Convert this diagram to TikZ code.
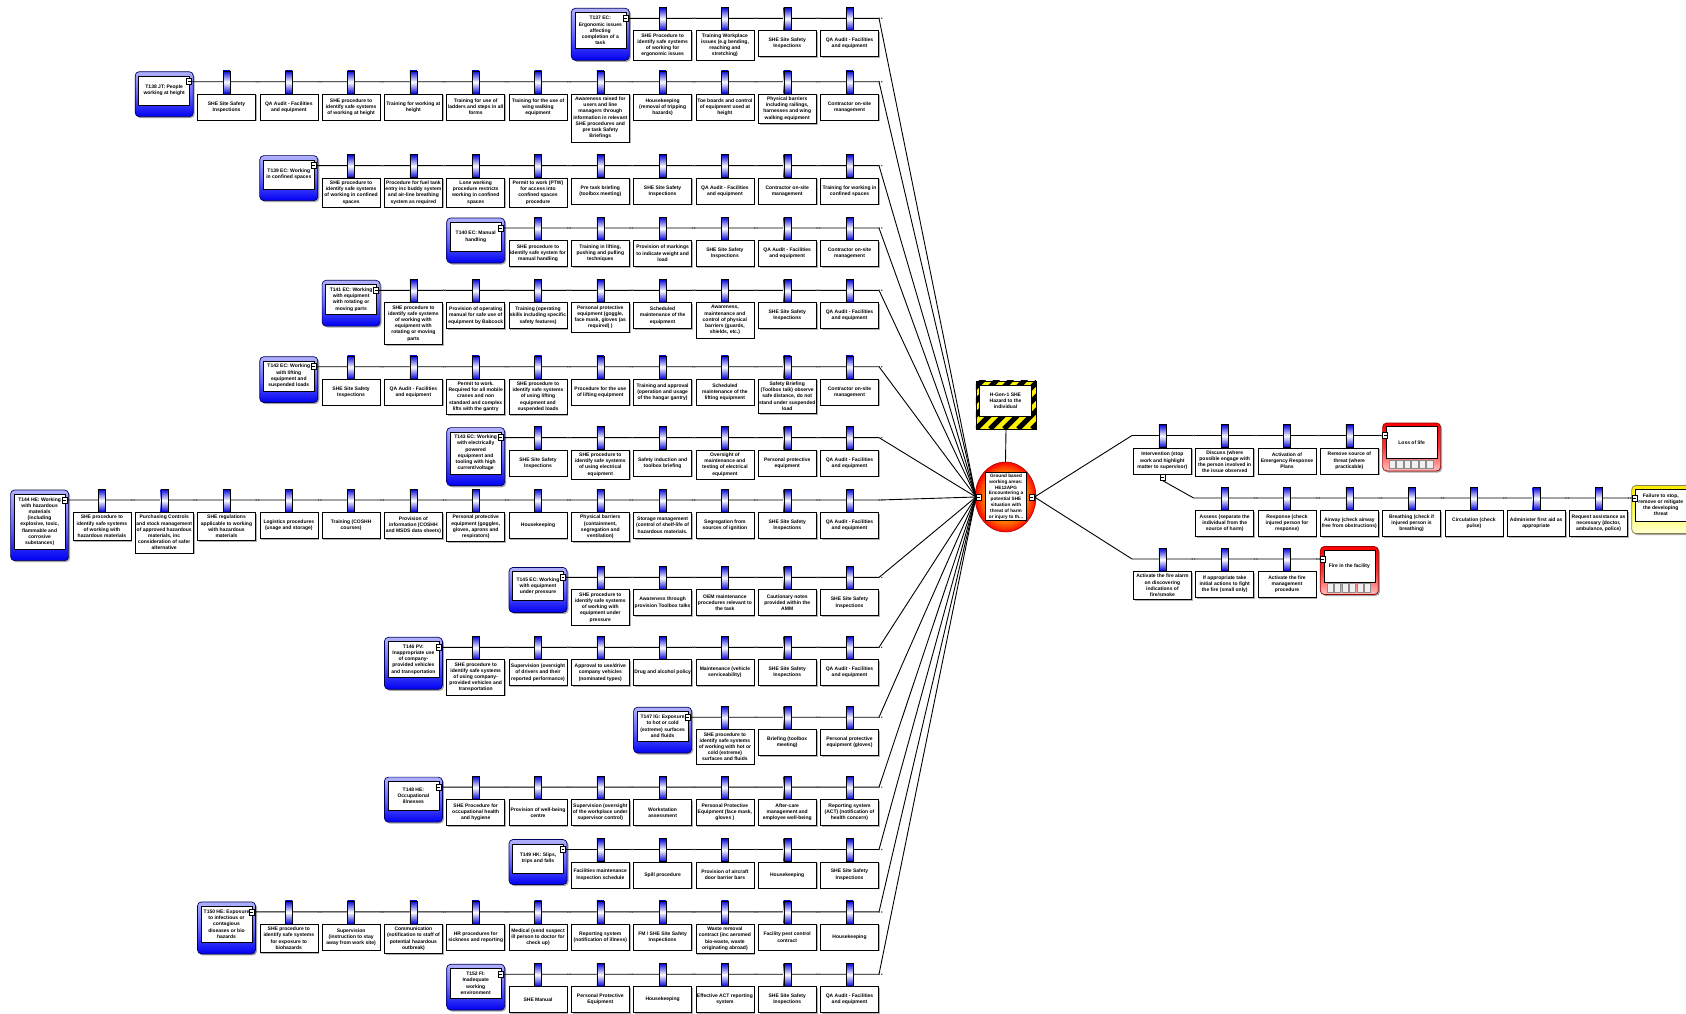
\documentclass[tikz,border=0pt]{standalone}
\usepackage{fontspec}
\setmainfont{Liberation Sans}
\usetikzlibrary{shapes.geometric,shadows}
\pgfdeclareradialshading{teshade}{\pgfpoint{0bp}{0bp}}{color(0bp)=(yellow!40!orange); color(17bp)=(orange); color(22bp)=(orange!45!red); color(25bp)=(red); color(50bp)=(red)}
\newcommand\bxf{\fontsize{5.0}{6.2}\selectfont\bfseries}
\newcommand\tef{\fontsize{4.7}{5.9}\selectfont\bfseries}
\tikzset{
  conline/.style={draw=black, line width=0.9},
  barrierbox/.style={draw=black, line width=0.5, fill=white, font=\bxf, align=center, minimum width=58, minimum height=26, inner xsep=0.8, inner ysep=3, drop shadow={shadow xshift=1.3pt, shadow yshift=-1.3pt, fill=black!50, opacity=0.6}},
  stemshade/.style={top color=blue!85!black, bottom color=blue!85!black, middle color=white, draw=black, line width=0.4},
  threatshade/.style={top color=blue!30!white, bottom color=blue!95!black, middle color=blue!60!white},
  threatedge/.style={draw=blue!35!black, line width=0.7, rounded corners=4},
  threatinner/.style={draw=black, line width=0.5, fill=white, font=\bxf, align=center, minimum width=51, inner sep=0.8},
  consinner/.style={draw=black, line width=0.5, fill=white, font=\bxf, align=center, minimum width=51, minimum height=32, inner sep=1},
  conn/.style={draw=black, line width=0.5, fill=white, minimum width=5, minimum height=6, inner sep=0, path picture={\draw[line width=0.5] ([xshift=-1.4pt]path picture bounding box.center) -- ([xshift=1.4pt]path picture bounding box.center);}},
  redshade/.style={top color=red, bottom color=red!25!white, middle color=red!80!white},
  rededge/.style={draw=red!60!black, line width=0.7, rounded corners=4},
  yellowshade/.style={top color=yellow!85!orange, bottom color=yellow!15!white, middle color=yellow!70!white},
  yellowedge/.style={draw=yellow!45!black, line width=0.7, rounded corners=4},
  hazinner/.style={draw=black, line width=0.5, fill=white, font=\bxf, align=center, minimum width=52, minimum height=31, inner sep=1},
  dotmark/.style={fill=black!70}
}
% barrier: name, x, line y, text
\newcommand\barrierat[4]{%
  \fill[dotmark] (#2+29.2,#3-0.6) rectangle ++(1.2,1.2) (#2+31.6,#3-0.6) rectangle ++(1.2,1.2);%
  \shade[stemshade] (#2-3.5,#3-11) rectangle (#2+3.5,#3+12);%
  \node[barrierbox, anchor=north] (#1) at (#2,#3+12) {#4};%
}
% threat row: id, line y, n barriers, threat lines, threat text, barrier list
\newcommand\threatrow[6]{%
  \pgfmathsetmacro\thx{849.5-62.3*#3}%
  \pgfmathsetmacro\thih{max(29,#4*6.2+5)}%
  \pgfmathsetmacro\thtop{#2-10}%
  \pgfmathsetmacro\thbot{#2-10+\thih+16}%
  \fill[black!35, rounded corners=4] (\thx-27.5,\thtop+1.5) rectangle (\thx+30.5,\thbot+1.5);%
  \shade[threatshade, rounded corners=4] (\thx-29,\thtop) rectangle (\thx+29,\thbot);%
  \draw[threatedge] (\thx-29,\thtop) rectangle (\thx+29,\thbot);%
  \node[threatinner, minimum height=\thih, anchor=north] (T#1) at (\thx,\thtop+4) {#5};%
  \node[conn] (T#1c) at (\thx+25,#2) {};%
  \coordinate (bend#1) at (879,#2);%
  \draw[conline] (T#1c.east) -- (bend#1) -- (TEl.west);%
  \foreach \btext [count=\i] in {#6} {%
    \pgfmathsetmacro\bx{849.5-62.3*(#3-\i)}%
    \barrierat{b#1-\i}{\bx}{#2}{\btext}%
  }%
}
% consequence: name, cx, line y, text, kind
\newcommand\consbox[5]{%
  \fill[black!35, rounded corners=4] (#2-27.5,#3-11) rectangle (#2+30.5,#3+37);%
  \shade[#5shade, rounded corners=4] (#2-29,#3-12.5) rectangle (#2+29,#3+35.5);%
  \draw[#5edge] (#2-29,#3-12.5) rectangle (#2+29,#3+35.5);%
  \node[consinner, anchor=north] (#1) at (#2,#3-9.5) {#4};%
  \node[conn] (#1c) at (#2-26.5,#3) {};%
}
\newcommand\conssquares[2]{%
  \foreach \q in {0,...,5} {\filldraw[fill=black!6, draw=black!45, line width=0.4] (#1-22.5+\q*7.5,#2+24.5) rectangle ++(6.3,8.5);}%
}
\begin{document}
\begin{tikzpicture}[x=1pt,y=-1pt]
\useasboundingbox (0,0) rectangle (1686,1013);
\fill[white] (0,0) rectangle (1686,1013);

% ---------- hazard ----------
\node[minimum width=60, minimum height=48, inner sep=0] (HZ) at (1006,405) {};
\begin{scope}
  \clip (HZ.south west) rectangle (HZ.north east);
  \fill[yellow] (HZ.south west) rectangle (HZ.north east);
  \foreach \s in {-56,-42,...,70} {\draw[line width=5] (976+\s,429) -- ++(50,-50);}
\end{scope}
\draw[line width=0.6] (HZ.south west) rectangle (HZ.north east);
\node[hazinner, anchor=north] (HZt) at (1005.5,385) {H-Gen-1 SHE\\Hazard to the\\individual};

% ---------- top event ----------
\node[ellipse, shade, shading=teshade, draw=red!65!black, line width=0.5, minimum width=61, minimum height=70, inner sep=0] (TE) at (1005.5,497) {};
\node[draw=black, line width=0.5, fill=white, font=\tef, align=center, minimum width=41, minimum height=48, inner sep=0.8] (TEt) at (1006,496.7) {Ground based\\working areas:\\HE12APG\\Encountering a\\potential SHE\\situation with\\threat of harm\\or injury to th...};
\node[conn] (TEl) at (978.7,497) {};
\node[conn] (TEr) at (1031.7,497) {};
\draw[conline] (HZ.south) -- (TE.north);

% ---------- threats ----------
\threatrow{137}{18.3}{4}{5}{T137 EC:\\Ergonomic issues\\affecting\\completion of a\\task}{{SHE Procedure to\\identify safe systems\\of working for\\ergonomic issues},{Training Workplace\\issues (e.g bending,\\reaching and\\stretching)},{SHE Site Safety\\Inspections},{QA Audit - Facilities\\and equipment}}

\threatrow{138}{81.7}{11}{2}{T138 JT: People\\working at height}{{SHE Site Safety\\Inspections},{QA Audit - Facilities\\and equipment},{SHE procedure to\\identify safe systems\\of working at height},{Training for working at\\height},{Training for use of\\ladders and steps in all\\forms},{Training for the use of\\wing walking\\equipment},{Awareness raised for\\users and line\\managers through\\information in relevant\\SHE procedures and\\pre task Safety\\Briefings},{Housekeeping\\(removal of tripping\\hazards)},{Toe boards and control\\of equipment used at\\height},{Physical barriers\\including railings,\\harnesses and wing\\walking equipment},{Contractor on-site\\management}}

\threatrow{139}{165.6}{9}{2}{T139 EC: Working\\in confined spaces}{{SHE procedure to\\identify safe systems\\of working in confined\\spaces},{Procedure for fuel tank\\entry inc buddy system\\and air-line breathing\\system as required},{Lone working\\procedure restricts\\working in confined\\spaces},{Permit to work (PTW)\\for access into\\confined spaces\\procedure},{Pre task briefing\\(toolbox meeting)},{SHE Site Safety\\Inspections},{QA Audit - Facilities\\and equipment},{Contractor on-site\\management},{Training for working in\\confined spaces}}

\threatrow{140}{228}{6}{2}{T140 EC: Manual\\handling}{{SHE procedure to\\identify safe system for\\manual handling},{Training in lifting,\\pushing and pulling\\techniques},{Provision of markings\\to indicate weight and\\load},{SHE Site Safety\\Inspections},{QA Audit - Facilities\\and equipment},{Contractor on-site\\management}}

\threatrow{141}{290.3}{8}{4}{T141 EC: Working\\with equipment\\with rotating or\\moving parts}{{SHE procedure to\\identify safe systems\\of working with\\equipment with\\rotating or moving\\parts},{Provision of operating\\manual for safe use of\\equipment by Babcock},{Training (operating\\skills including specific\\safety features)},{Personal protective\\equipment (goggle,\\face mask, gloves (as\\required) )},{Scheduled\\maintenance of the\\equipment},{Awareness,\\maintenance and\\control of physical\\barriers (guards,\\shields, etc.)},{SHE Site Safety\\Inspections},{QA Audit - Facilities\\and equipment}}

\threatrow{142}{366.7}{9}{4}{T142 EC: Working\\with lifting\\equipment and\\suspended loads}{{SHE Site Safety\\Inspections},{QA Audit - Facilities\\and equipment},{Permit to work.\\Required for all mobile\\cranes and non\\standard and complex\\lifts with the gantry},{SHE procedure to\\identify safe systems\\of using lifting\\equipment and\\suspended loads},{Procedure for the use\\of lifting equipment},{Training and approval\\(operation and  usage\\of the hangar gantry)},{Scheduled\\maintenance of the\\lifting equipment},{Safety Briefing\\(Toolbox talk) observe\\safe distance, do not\\stand under suspended\\load},{Contractor on-site\\management}}

\threatrow{143}{437.6}{6}{6}{T143 EC: Working\\with electrically\\powered\\equipment and\\tooling with high\\current/voltage}{{SHE Site Safety\\Inspections},{SHE procedure to\\identify safe systems\\of using electrical\\equipment},{Safety induction and\\toolbox briefing},{Oversight of\\maintenance and\\testing of electrical\\equipment},{Personal protective\\equipment},{QA Audit - Facilities\\and equipment}}

\threatrow{144}{500}{13}{8}{T144 HE: Working\\with hazardous\\materials\\(including\\explosive, toxic,\\flammable and\\corrosive\\substances)}{{SHE procedure to\\identify safe systems\\of working with\\hazardous materials},{Purchasing Controls\\and stock management\\of approved hazardous\\materials, inc\\consideration of safer\\alternative},{SHE regulations\\applicable to working\\with hazardous\\materials},{Logistics procedures\\(usage and storage)},{Training (COSHH\\courses)},{Provision of\\information (COSHH\\and MSDS data sheets)},{Personal protective\\equipment (goggles,\\gloves, aprons and\\respirators)},{Housekeeping},{Physical barriers\\(containment,\\segregation and\\ventilation)},{Storage management\\(control of shelf-life of\\hazardous materials.},{Segregation from\\sources of ignition},{SHE Site Safety\\Inspections},{QA Audit - Facilities\\and equipment}}

\threatrow{145}{577.4}{5}{3}{T145 EC: Working\\with equipment\\under pressure}{{SHE procedure to\\identify safe systems\\of working with\\equipment under\\pressure},{Awareness through\\provision Toolbox talks},{OEM maintenance\\procedures relevant to\\the task},{Cautionary notes\\provided within the\\AMM},{SHE Site Safety\\Inspections}}

\threatrow{146}{647.3}{7}{5}{T146 PV:\\Inappropriate use\\of company-\\provided vehicles\\and transportation}{{SHE procedure to\\identify safe systems\\of using company-\\provided vehicles and\\transportation},{Supervision (oversight\\of drivers and their\\reported performance)},{Approval to use/drive\\company vehicles\\(nominated types)},{Drug and alcohol policy},{Maintenance (vehicle\\serviceability)},{SHE Site Safety\\Inspections},{QA Audit - Facilities\\and equipment}}

\threatrow{147}{717.2}{3}{4}{T147 IG: Exposure\\to hot or cold\\(extreme) surfaces\\and fluids}{{SHE procedure to\\identify safe systems\\of working with hot or\\cold (extreme)\\surfaces and fluids},{Briefing (toolbox\\meeting)},{Personal protective\\equipment (gloves)}}

\threatrow{148}{787.1}{7}{3}{T148 HE:\\Occupational\\illnesses}{{SHE Procedure for\\occupational health\\and hygiene},{Provision of well-being\\centre},{Supervision (oversight\\of the workplace under\\supervisor control)},{Workstation\\assessment},{Personal Protective\\Equipment (face mask,\\gloves )},{After-care\\management and\\employee well-being},{Reporting system\\(ACT) (notification of\\health concern)}}

\threatrow{149}{849.5}{5}{2}{T149 HK: Slips,\\trips and falls}{{Facilities maintenance\\Inspection schedule},{Spill procedure},{Provision of aircraft\\door barrier bars},{Housekeeping},{SHE Site Safety\\Inspections}}

\threatrow{150}{911.9}{10}{5}{T150 HE: Exposure\\to infectious or\\contagious\\diseases or bio\\hazards}{{SHE procedure to\\identify safe systems\\for exposure to\\biohazards},{Supervision\\(instruction to stay\\away from work site)},{Communication\\(notification to staff of\\potential hazardous\\outbreak)},{HR procedures for\\sickness and reporting},{Medical (send suspect\\ill person to doctor for\\check up)},{Reporting system\\(notification of illness)},{FM / SHE Site Safety\\Inspections},{Waste removal\\contract (inc aeromed\\bio-waste, waste\\originating abroad)},{Facility pest control\\contract},{Housekeeping}}

\threatrow{152}{974.2}{6}{4}{T152 FI:\\Inadequate\\working\\environment}{{SHE Manual},{Personal Protective\\Equipment},{Housekeeping},{Effective ACT reporting\\system},{SHE Site Safety\\Inspections},{QA Audit - Facilities\\and equipment}}

% ---------- consequences ----------
% branch 1
\coordinate (bendR1) at (1132,435.5);
\consbox{LOL}{1411.6}{435.5}{Loss of life}{red}
\conssquares{1411.6}{435.5}
\draw[conline] (TEr.east) -- (bendR1) -- (LOLc.west);
\barrierat{c1-1}{1162.4}{435.5}{Intervention (stop\\work and highlight\\matter to supervisor)}
\barrierat{c1-2}{1224.7}{435.5}{Discuss (where\\possible engage with\\the person involved in\\the issue observed}
\barrierat{c1-3}{1287}{435.5}{Activation of\\Emergency Response\\Plans}
\barrierat{c1-4}{1349.3}{435.5}{Remove source of\\threat (where\\practicable)}

% sub-branch
\node[conn, anchor=north] (subc) at (c1-1.south) {};
\coordinate (bendR3) at (1193.6,498);
\consbox{FAIL}{1660.8}{498}{Failure to stop,\\remove or mitigate\\the developing\\threat}{yellow}
\draw[conline] (subc.south) -- (bendR3) -- (FAILc.west);
\barrierat{c3-1}{1224.7}{498}{Assess (separate the\\individual from the\\source of harm)}
\barrierat{c3-2}{1287}{498}{Response (check\\injured person for\\response)}
\barrierat{c3-3}{1349.3}{498}{Airway (check airway\\free from obstructions)}
\barrierat{c3-4}{1411.6}{498}{Breathing (check if\\injured person is\\breathing)}
\barrierat{c3-5}{1473.9}{498}{Circulation (check\\pulse)}
\barrierat{c3-6}{1536.2}{498}{Administer first aid as\\appropriate}
\barrierat{c3-7}{1598.5}{498}{Request assistance as\\necessary (doctor,\\ambulance, police)}

% branch 2
\coordinate (bendR2) at (1132,559);
\consbox{FIRE}{1349.3}{559}{Fire in the facility}{red}
\conssquares{1349.3}{559}
\draw[conline] (TEr.east) -- (bendR2) -- (FIREc.west);
\barrierat{c2-1}{1162.4}{559}{Activate the fire alarm\\on discovering\\indications of\\fire/smoke}
\barrierat{c2-2}{1224.7}{559}{If appropriate take\\initial actions to fight\\the fire (small only)}
\barrierat{c2-3}{1287}{559}{Activate the fire\\management\\procedure}
\end{tikzpicture}
\end{document}
